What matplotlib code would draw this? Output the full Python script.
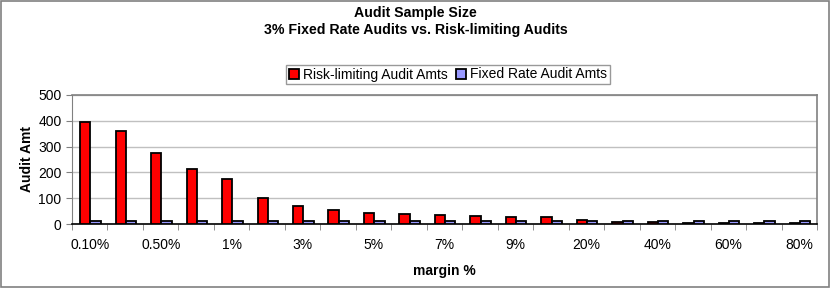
import matplotlib
matplotlib.use("Agg")
import matplotlib.pyplot as plt
import numpy as np
from matplotlib.patches import Rectangle

plt.rcParams['font.family'] = ['Liberation Sans', 'DejaVu Sans']

categories = ["0.10%", "0.25%", "0.50%", "0.75%", "1%", "2%", "3%", "4%", "5%", "6%",
              "7%", "8%", "9%", "10%", "20%", "30%", "40%", "50%", "60%", "70%", "80%"]
risk_limiting = [395, 360, 274, 213, 174, 100, 70, 54, 44, 37,
                 34, 30, 28, 26, 14, 9, 7, 5, 5, 4, 4]
fixed_rate = [11, 11, 11, 11, 11, 11, 11, 11, 11, 11,
              11, 11, 11, 11, 11, 11, 11, 11, 11, 11, 11]

fig = plt.figure(figsize=(8.31, 2.88), dpi=100)
fig.patch.set_facecolor("white")
fig.patches.append(Rectangle((0.001, 0.002), 0.997, 0.995, transform=fig.transFigure,
                             fill=False, edgecolor="#808080", linewidth=1.2))

ax = fig.add_axes([72/831, 1-224/288, (817-72)/831, (224-95)/288])
x = np.arange(len(categories))
w = 0.29
ax.bar(x - w/2 + 0.02, risk_limiting, width=w, color="#FF0000", edgecolor="black",
       linewidth=1.3, label="Risk-limiting Audit Amts", zorder=3)
ax.bar(x + w/2 + 0.02, fixed_rate, width=w, color="#9999FF", edgecolor="black",
       linewidth=1.3, label="Fixed Rate Audit Amts", zorder=3)

ax.set_xlim(-0.5, len(categories) - 0.5)
ax.set_ylim(0, 500)
ax.set_yticks(range(0, 501, 100))
ax.yaxis.grid(True, color="#C0C0C0", linewidth=1)
ax.set_axisbelow(True)

ax.set_xticks(x[::2])
ax.set_xticklabels(categories[::2])
ax.set_xticks(np.arange(-0.5, len(categories), 1), minor=True)
ax.tick_params(axis="x", which="major", length=0, labelsize=10, pad=10, colors="black")
ax.tick_params(axis="x", which="minor", length=4, direction="out", color="#808080")
ax.tick_params(axis="y", length=4, direction="out", labelsize=10, color="#808080")

for s in ["top", "right"]:
    ax.spines[s].set_color("#808080")
    ax.spines[s].set_linewidth(1.2)
ax.spines["left"].set_color("#808080")
ax.spines["bottom"].set_color("black")
ax.spines["bottom"].set_linewidth(1.2)

ax.set_ylabel("Audit Amt", fontsize=10, fontweight="bold", labelpad=3)
ax.set_xlabel("margin %", fontsize=10, fontweight="bold", labelpad=9)

fig.text(0.5, 1-13/288, "Audit Sample Size", ha="center", va="center",
         fontsize=10.2, fontweight="bold")
fig.text(0.5, 1-30/288, "3% Fixed Rate Audits vs. Risk-limiting Audits", ha="center",
         va="center", fontsize=10.2, fontweight="bold")

leg = fig.legend(loc="center", bbox_to_anchor=(448/831, 1-74.5/288), ncol=2,
                 fontsize=10, frameon=True, fancybox=False, edgecolor="#808080",
                 handlelength=0.7, handleheight=0.7, handletextpad=0.3,
                 columnspacing=0.6, borderpad=0.2, borderaxespad=0)
leg.get_frame().set_linewidth(1)

fig.savefig("out.png", dpi=100)
